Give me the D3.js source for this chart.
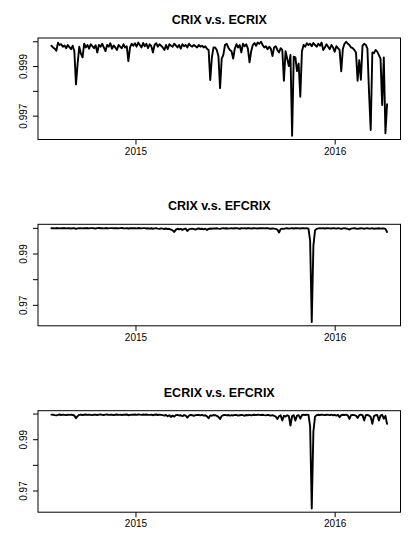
<!DOCTYPE html>
<html>
<head>
<meta charset="utf-8">
<script src="https://cdn.jsdelivr.net/npm/d3@7"></script>
<style>
  html, body { margin: 0; padding: 0; background: #fff; }
  svg { display: block; }
  text { font-family: "Liberation Sans", Arial, Helvetica, sans-serif; fill: #000; }
</style>
</head>
<body>
<svg id="chart" width="420" height="560"></svg>
<script>
// ---- data (3-day sampling grid of the daily series) ----
const startDate = "2014-07-31";
const stepDays = 3;

const titles = ["CRIX v.s. ECRIX", "CRIX v.s. EFCRIX", "ECRIX v.s. EFCRIX"];

const xTickDates = ["2015-01-01", "2016-01-01"];
const xTickLabels = ["2015", "2016"];

const yTicksTop = [1.000, 0.999, 0.998, 0.997];
const yLabelsTop = ["", "0.999", "", "0.997"];
const yTicksLow = [1.00, 0.99, 0.98, 0.97];
const yLabelsLow = ["", "0.99", "", "0.97"];

const crixVsEcrix = [
  0.99982,0.99975,0.99970,0.99962,0.99994,0.99985,0.99988,0.99978,0.99983,0.99972,
  0.99985,0.99976,0.99968,0.99982,0.99960,0.99826,0.99910,0.99978,0.99950,0.99935,
  0.99990,0.99975,0.99985,0.99970,0.99988,0.99980,0.99972,0.99984,0.99955,0.99985,
  0.99978,0.99990,0.99975,0.99960,0.99985,0.99978,0.99992,0.99970,0.99983,0.99975,
  0.99965,0.99985,0.99978,0.99972,0.99988,0.99975,0.99980,0.99920,0.99975,0.99990,
  0.99982,0.99992,0.99978,0.99995,0.99985,0.99975,0.99993,0.99980,0.99990,0.99972,
  0.99988,0.99980,0.99955,0.99985,0.99992,0.99978,0.99988,0.99982,0.99975,0.99965,
  0.99985,0.99968,0.99988,0.99982,0.99978,0.99990,0.99983,0.99975,0.99985,0.99970,
  0.99988,0.99980,0.99985,0.99975,0.99990,0.99982,0.99978,0.99985,0.99980,0.99975,
  0.99985,0.99978,0.99982,0.99975,0.99980,0.99970,0.99965,0.99844,0.99935,0.99975,
  0.99975,0.99965,0.99940,0.99811,0.99930,0.99945,0.99985,0.99990,0.99975,0.99965,
  0.99960,0.99930,0.99970,0.99988,0.99975,0.99985,0.99955,0.99990,0.99980,0.99988,
  0.99970,0.99915,0.99960,0.99985,0.99993,0.99982,0.99995,0.99990,0.99998,0.99985,
  0.99975,0.99980,0.99968,0.99978,0.99970,0.99940,0.99975,0.99980,0.99965,0.99955,
  0.99972,0.99965,0.99841,0.99960,0.99930,0.99900,0.99945,0.99619,0.99938,0.99935,
  0.99880,0.99910,0.99776,0.99960,0.99985,0.99978,0.99992,0.99985,0.99990,0.99980,
  0.99993,0.99985,0.99978,0.99990,0.99982,0.99995,0.99965,0.99975,0.99988,0.99978,
  0.99968,0.99985,0.99975,0.99958,0.99980,0.99972,0.99965,0.99879,0.99970,0.99990,
  0.99998,0.99990,0.99985,0.99975,0.99972,0.99965,0.99955,0.99841,0.99924,0.99845,
  0.99982,0.99990,0.99985,0.99970,0.99791,0.99642,0.99955,0.99952,0.99965,0.99958,
  0.99944,0.99930,0.99743,0.99935,0.99629,0.99746
];

const crixVsEfcrix = [
  0.99985,0.99990,0.99980,0.99992,0.99986,0.99978,0.99990,0.99984,0.99992,0.99980,
  0.99988,0.99982,0.99975,0.99990,0.99985,0.99960,0.99980,0.99990,0.99984,0.99978,
  0.99990,0.99985,0.99992,0.99980,0.99988,0.99990,0.99982,0.99976,0.99988,0.99992,
  0.99985,0.99990,0.99980,0.99986,0.99992,0.99978,0.99988,0.99990,0.99982,0.99987,
  0.99990,0.99980,0.99988,0.99992,0.99984,0.99978,0.99990,0.99975,0.99985,0.99990,
  0.99986,0.99990,0.99980,0.99992,0.99985,0.99978,0.99988,0.99990,0.99975,0.99985,
  0.99970,0.99985,0.99965,0.99980,0.99988,0.99972,0.99960,0.99982,0.99970,0.99955,
  0.99975,0.99950,0.99965,0.99930,0.99900,0.99840,0.99930,0.99965,0.99945,0.99960,
  0.99920,0.99955,0.99970,0.99880,0.99940,0.99960,0.99970,0.99950,0.99930,0.99965,
  0.99975,0.99955,0.99965,0.99945,0.99970,0.99920,0.99960,0.99975,0.99965,0.99980,
  0.99975,0.99985,0.99970,0.99960,0.99980,0.99988,0.99975,0.99985,0.99970,0.99980,
  0.99988,0.99975,0.99985,0.99990,0.99978,0.99965,0.99985,0.99980,0.99990,0.99975,
  0.99982,0.99988,0.99970,0.99985,0.99990,0.99980,0.99975,0.99988,0.99982,0.99990,
  0.99978,0.99985,0.99990,0.99975,0.99965,0.99980,0.99970,0.99960,0.99935,0.99820,
  0.99950,0.99970,0.99960,0.99978,0.99985,0.99970,0.99980,0.99988,0.99975,0.99985,
  0.99990,0.99980,0.99975,0.99988,0.99985,0.99978,0.99985,0.99970,0.99500,0.96330,
  0.99300,0.99900,0.99960,0.99980,0.99985,0.99978,0.99988,0.99975,0.99985,0.99990,
  0.99980,0.99975,0.99988,0.99982,0.99970,0.99985,0.99978,0.99960,0.99980,0.99988,
  0.99975,0.99965,0.99935,0.99970,0.99980,0.99988,0.99975,0.99960,0.99975,0.99985,
  0.99978,0.99965,0.99980,0.99988,0.99970,0.99975,0.99985,0.99960,0.99980,0.99975,
  0.99985,0.99970,0.99980,0.99975,0.99960,0.99840
];

const ecrixVsEfcrix = [
  0.99960,0.99955,0.99940,0.99930,0.99950,0.99962,0.99945,0.99958,0.99950,0.99940,
  0.99955,0.99948,0.99960,0.99945,0.99925,0.99820,0.99900,0.99950,0.99960,0.99945,
  0.99955,0.99962,0.99948,0.99958,0.99950,0.99940,0.99960,0.99955,0.99945,0.99958,
  0.99962,0.99950,0.99945,0.99958,0.99965,0.99948,0.99955,0.99960,0.99940,0.99955,
  0.99962,0.99950,0.99958,0.99945,0.99960,0.99955,0.99965,0.99935,0.99950,0.99960,
  0.99955,0.99962,0.99948,0.99965,0.99958,0.99950,0.99962,0.99955,0.99965,0.99948,
  0.99950,0.99960,0.99935,0.99955,0.99962,0.99945,0.99958,0.99950,0.99940,0.99920,
  0.99945,0.99895,0.99935,0.99870,0.99920,0.99880,0.99940,0.99950,0.99925,0.99935,
  0.99900,0.99940,0.99925,0.99845,0.99920,0.99945,0.99935,0.99910,0.99940,0.99950,
  0.99945,0.99930,0.99950,0.99920,0.99935,0.99890,0.99820,0.99930,0.99915,0.99945,
  0.99935,0.99910,0.99870,0.99790,0.99905,0.99935,0.99950,0.99930,0.99945,0.99920,
  0.99940,0.99925,0.99950,0.99945,0.99920,0.99935,0.99950,0.99940,0.99915,0.99945,
  0.99935,0.99950,0.99930,0.99945,0.99955,0.99940,0.99960,0.99950,0.99945,0.99955,
  0.99940,0.99930,0.99950,0.99935,0.99920,0.99940,0.99910,0.99880,0.99790,0.99900,
  0.99930,0.99730,0.99915,0.99880,0.99935,0.99900,0.99530,0.99905,0.99935,0.99730,
  0.99920,0.99940,0.99800,0.99935,0.99955,0.99945,0.99960,0.99950,0.99500,0.96300,
  0.99300,0.99880,0.99940,0.99955,0.99945,0.99960,0.99950,0.99940,0.99955,0.99948,
  0.99940,0.99955,0.99935,0.99945,0.99920,0.99950,0.99860,0.99940,0.99955,0.99945,
  0.99960,0.99930,0.99790,0.99935,0.99950,0.99940,0.99920,0.99830,0.99935,0.99955,
  0.99940,0.99730,0.99935,0.99950,0.99920,0.99870,0.99600,0.99900,0.99935,0.99945,
  0.99730,0.99920,0.99950,0.99800,0.99910,0.99600
];

// ---- drawing ----
const parse = d3.utcParse("%Y-%m-%d");
const t0 = parse(startDate);
const series = [crixVsEcrix, crixVsEfcrix, ecrixVsEfcrix];
const yTickSets = [yTicksTop, yTicksLow, yTicksLow];
const yLabelSets = [yLabelsTop, yLabelsLow, yLabelsLow];

const svg = d3.select("#chart");
const plotLeft = 38, plotRight = 400.5, plotH = 101.5;
const panelTops = [38, 224.3, 410.7];

function padded(ext) {
  const p = (ext[1] - ext[0]) * 0.04;
  return [ext[0] - p, ext[1] + p];
}

series.forEach((vals, k) => {
  const data = vals.map((v, i) => ({ date: d3.utcDay.offset(t0, i * stepDays), value: v }));
  const top = panelTops[k], bottom = top + plotH;

  const x = d3.scaleUtc()
    .domain(padded(d3.extent(data, d => d.date).map(Number)).map(n => new Date(n)))
    .range([plotLeft, plotRight]);
  const y = d3.scaleLinear()
    .domain(padded(d3.extent(data, d => d.value)))
    .range([bottom, top]);

  const g = svg.append("g");

  // title
  g.append("text")
    .attr("x", (plotLeft + plotRight) / 2)
    .attr("y", top - 14)
    .attr("text-anchor", "middle")
    .style("font-size", "12.5px")
    .style("font-weight", "bold")
    .text(titles[k]);

  // line
  const line = d3.line().x(d => x(d.date)).y(d => y(d.value));
  g.append("path")
    .datum(data)
    .attr("d", line)
    .attr("fill", "none")
    .attr("stroke", "#000")
    .attr("stroke-width", 1.9)
    .attr("stroke-linejoin", "round")
    .attr("stroke-linecap", "round");

  // x axis
  const xAxis = d3.axisBottom(x)
    .tickValues(xTickDates.map(parse))
    .tickFormat((d, i) => xTickLabels[i])
    .tickSizeInner(5).tickSizeOuter(0).tickPadding(3);
  const gx = g.append("g").attr("transform", `translate(0,${bottom})`).call(xAxis);
  gx.select(".domain").remove();
  gx.selectAll("text").style("font-size", "10px").style("font-family", "'Liberation Sans', Arial, sans-serif");

  // y axis
  const yAxis = d3.axisLeft(y)
    .tickValues(yTickSets[k])
    .tickFormat((d, i) => yLabelSets[k][i])
    .tickSizeInner(5).tickSizeOuter(0);
  const gy = g.append("g").attr("transform", `translate(${plotLeft},0)`).call(yAxis);
  gy.select(".domain").remove();
  gy.selectAll("text")
    .attr("x", null).attr("dy", null)
    .attr("text-anchor", "middle")
    .attr("transform", "translate(-11,0) rotate(-90)")
    .style("font-size", "10px")
    .style("font-family", "'Liberation Sans', Arial, sans-serif");

  // box
  g.append("rect")
    .attr("x", plotLeft).attr("y", top)
    .attr("width", plotRight - plotLeft).attr("height", plotH)
    .attr("fill", "none").attr("stroke", "#000").attr("stroke-width", 1);
});
</script>
</body>
</html>
